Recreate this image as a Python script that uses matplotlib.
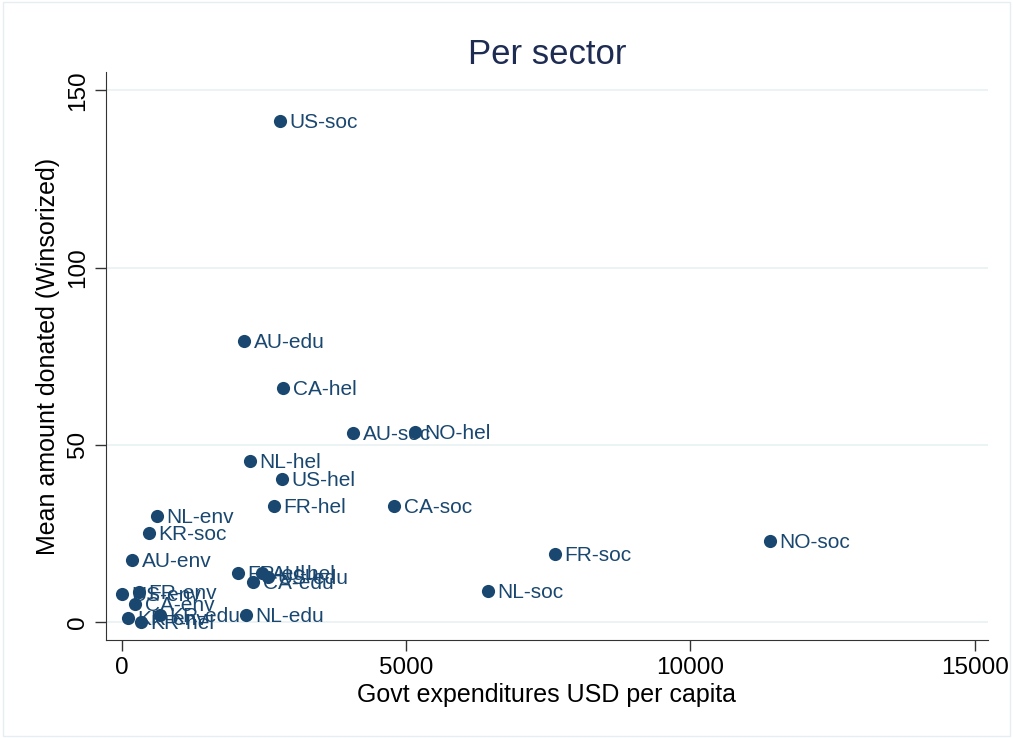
import matplotlib.pyplot as plt
from matplotlib.patches import Rectangle

# country-sector labels, govt expenditure per capita (USD), mean donation (winsorized)
labels = ['US-soc', 'AU-edu', 'CA-hel', 'AU-soc', 'NO-hel', 'NL-hel', 'US-hel',
          'FR-hel', 'CA-soc', 'NL-env', 'KR-soc', 'AU-env', 'FR-soc', 'NO-soc',
          'NL-soc', 'FR-edu', 'AU-hel', 'US-edu', 'CA-edu', 'NL-edu', 'FR-env',
          'US-env', 'CA-env', 'KR-env', 'KR-edu', 'KR-hel']
expenditure = [2779, 2146, 2832, 4063, 5153, 2251, 2814,
               2673, 4784, 616, 475, 176, 7615, 11396,
               6437, 2040, 2462, 2568, 2304, 2181, 299,
               0, 229, 106, 668, 334]
donated = [141.3, 79.2, 66.0, 53.3, 53.6, 45.4, 40.3,
           32.7, 32.7, 29.9, 25.1, 17.5, 19.2, 22.8,
           8.7, 13.8, 13.8, 12.7, 11.3, 2.0, 8.5,
           7.9, 5.1, 1.1, 2.0, 0.0]

navy = '#1a476f'
plt.rcParams['font.family'] = ['Liberation Sans', 'DejaVu Sans']

fig = plt.figure(figsize=(10.13, 7.38), dpi=100)
ax = fig.add_axes([0.1046, 0.133, 0.8704, 0.769])

ax.scatter(expenditure, donated, s=90, color=navy, zorder=3, linewidths=0)
for lab, x, y in zip(labels, expenditure, donated):
    ax.annotate(lab, (x, y), xytext=(7, -1), textcoords='offset points',
                va='center', ha='left', fontsize=15, color=navy, zorder=4)

ax.set_xlim(-281, 15230)
ax.set_ylim(-5.1, 155.1)
ax.set_xticks([0, 5000, 10000, 15000])
ax.set_yticks([0, 50, 100, 150])
ax.set_yticklabels(['0', '50', '100', '150'], rotation=90, va='center')
ax.yaxis.grid(True, color='#eaf2f3', linewidth=1.3, zorder=0)
ax.set_axisbelow(True)
for side in ['top', 'right']:
    ax.spines[side].set_visible(False)
for side in ['left', 'bottom']:
    ax.spines[side].set_color('#333333')
ax.tick_params(direction='out', length=8, width=1, color='#333333',
               labelsize=17.5, pad=4)
ax.set_xlabel('Govt expenditures USD per capita', fontsize=18, labelpad=3)
ax.set_ylabel('Mean amount donated (Winsorized)', fontsize=18, labelpad=5)
ax.set_title('Per sector', fontsize=25, color='#1e2c53', pad=6)

fig.patches.append(Rectangle((0.003, 0.003), 0.994, 0.994, transform=fig.transFigure,
                             fill=False, edgecolor='#e6eef2', linewidth=1))
fig.savefig('out.png', dpi=100, facecolor='white')
